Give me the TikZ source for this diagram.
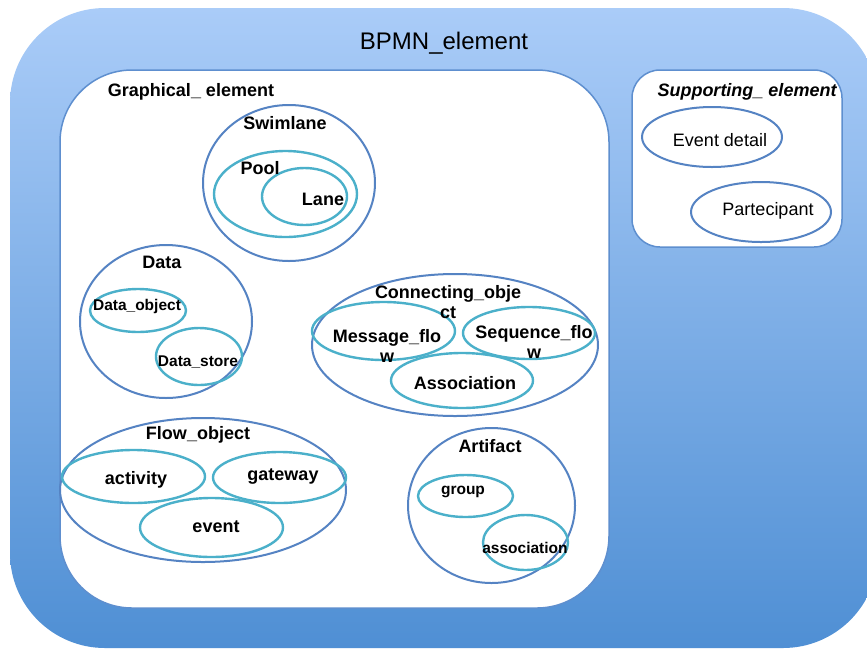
\documentclass[tikz,border=0pt]{standalone}
\usepackage{fontspec}
\setmainfont{Liberation Sans}
\definecolor{bgtop}{HTML}{AACCF8}
\definecolor{bgbottom}{HTML}{4F8FD4}
\definecolor{boxline}{HTML}{5E8FCF}
\definecolor{ringblue}{HTML}{5583C3}
\definecolor{ringcyan}{HTML}{4BB0CA}

\tikzset{
  catring/.style={draw=ringblue, line width=2pt},
  subring/.style={draw=ringcyan, line width=2.4pt},
  whitebox/.style={fill=white, draw=boxline, line width=1.5pt},
  headlabel/.style={font=\fontsize{18}{20}\selectfont\bfseries, inner sep=0pt},
  smalllabel/.style={font=\fontsize{15.5}{18}\selectfont\bfseries, inner sep=0pt},
  plainlabel/.style={font=\fontsize{18}{20}\selectfont, inner sep=0pt}
}

\begin{document}
\begin{tikzpicture}[x=1pt, y=-1pt]
  \useasboundingbox (0,0) rectangle (867,649);
  \fill[white] (0,0) rectangle (867,649);

  % outer frame, cut at the right border
  \begin{scope}
    \clip (0,0) rectangle (867,649);
    \shade[top color=bgtop, bottom color=bgbottom, rounded corners=95pt] (10,8) rectangle (878,648);
  \end{scope}
  \node[plainlabel, font=\fontsize{24}{26}\selectfont] (bpmn) at (444,43) {BPMN\_element};

  % graphical elements
  \draw[whitebox, rounded corners=72pt] (60,70) rectangle (609,608);
  \node[headlabel] (graph) at (191,92) {Graphical\_ element};

  \draw[catring] (289,183) ellipse [x radius=86pt, y radius=78pt];
  \draw[subring] (285.5,194) ellipse [x radius=71.5pt, y radius=43pt];
  \draw[subring] (304.5,196.5) ellipse [x radius=42.5pt, y radius=28.5pt];
  \node[headlabel] (swim) at (285,123) {Swimlane};
  \node[headlabel] (pool) at (260,168) {Pool};
  \node[headlabel] (lane) at (323,199) {Lane};

  \draw[catring] (166,321.5) ellipse [x radius=86pt, y radius=76.5pt];
  \draw[subring] (138,310.5) ellipse [x radius=48pt, y radius=21.5pt];
  \draw[subring] (199,356.5) ellipse [x radius=43pt, y radius=28.5pt];
  \node[headlabel] (data) at (162,262) {Data};
  \node[smalllabel] (dobj) at (137,306) {Data\_object};
  \node[smalllabel] (dstore) at (198,362) {Data\_store};

  \draw[catring] (455,345) ellipse [x radius=143pt, y radius=71pt];
  \draw[subring] (383.5,331) ellipse [x radius=71.5pt, y radius=29pt];
  \draw[subring] (529,333) ellipse [x radius=66pt, y radius=26pt];
  \draw[subring] (462,380.5) ellipse [x radius=71pt, y radius=27.5pt];
  \node[headlabel, align=center] (conn) at (448,302) {Connecting\_obje\\ct};
  \node[headlabel, align=center] (msg) at (387,346) {Message\_flo\\w};
  \node[headlabel, align=center] (seq) at (534,342) {Sequence\_flo\\w};
  \node[headlabel] (assoc) at (465,383) {Association};

  \draw[catring] (203,490) ellipse [x radius=143pt, y radius=72pt];
  \draw[subring] (133.5,476.5) ellipse [x radius=71.5pt, y radius=26.5pt];
  \draw[subring] (279.5,477.5) ellipse [x radius=66.5pt, y radius=25.5pt];
  \draw[subring] (211.5,527.5) ellipse [x radius=71.5pt, y radius=29.5pt];
  \node[headlabel] (flow) at (198,435) {Flow\_object};
  \node[headlabel] (act) at (136,480) {activity};
  \node[headlabel] (gate) at (283,477) {gateway};
  \node[headlabel] (evt) at (216,527) {event};

  \draw[catring] (491.5,505.5) ellipse [x radius=83.5pt, y radius=77.5pt];
  \draw[subring] (465.5,496) ellipse [x radius=47.5pt, y radius=21pt];
  \draw[subring] (525.5,542.5) ellipse [x radius=42.5pt, y radius=27.5pt];
  \node[headlabel] (art) at (490,446) {Artifact};
  \node[smalllabel] (grp) at (463,492) {group};
  \node[smalllabel] (artassoc) at (525,548) {association};

  % supporting elements
  \draw[whitebox, rounded corners=28pt] (632,70) rectangle (842,247);
  \node[headlabel, font=\fontsize{18}{20}\selectfont\bfseries\itshape] (supp) at (747,92) {Supporting\_ element};
  \draw[catring] (712,137) ellipse [x radius=70pt, y radius=30pt];
  \draw[catring] (761,212) ellipse [x radius=70pt, y radius=30pt];
  \node[plainlabel] (detail) at (720,140) {Event detail};
  \node[plainlabel] (part) at (768,211) {Partecipant};
\end{tikzpicture}
\end{document}
